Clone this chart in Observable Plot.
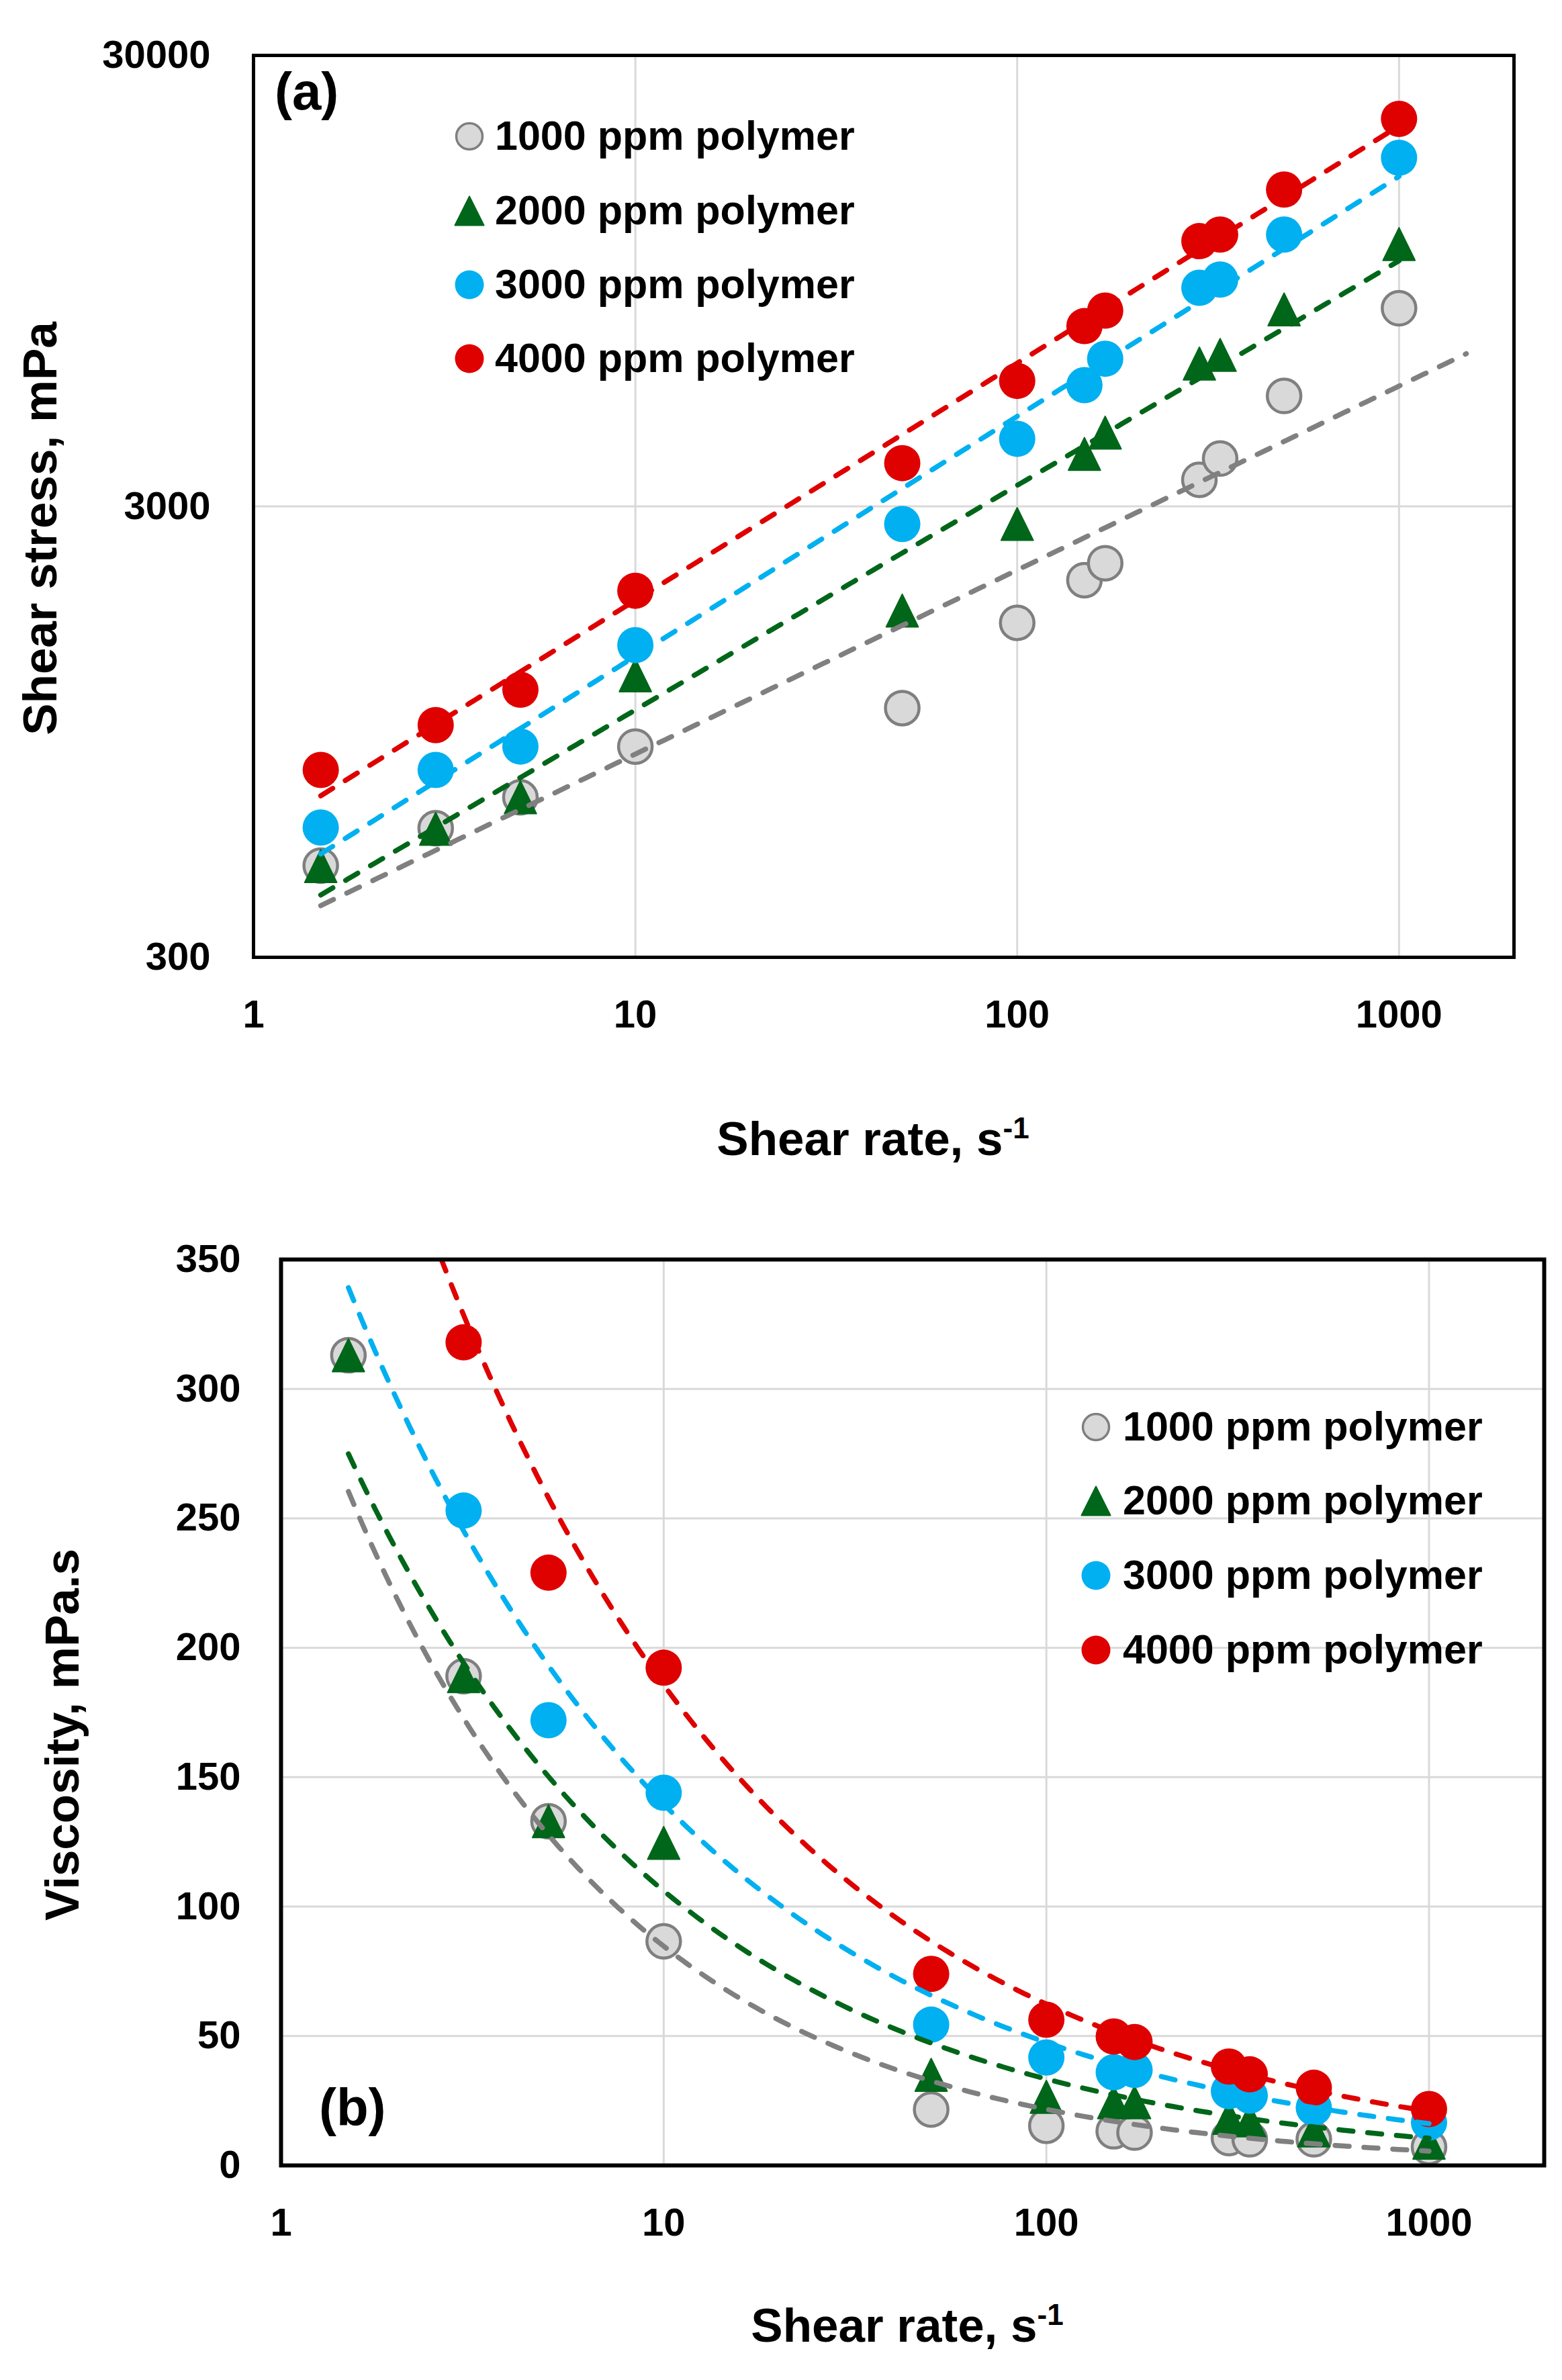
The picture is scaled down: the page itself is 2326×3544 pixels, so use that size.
<!DOCTYPE html>
<html>
<head>
<meta charset="utf-8">
<script src="https://cdn.jsdelivr.net/npm/d3@7"></script>
<script src="https://cdn.jsdelivr.net/npm/@observablehq/plot@0.6"></script>
<style>
html, body { margin: 0; padding: 0; background: #ffffff; }
#chart svg { display: block; }
</style>
</head>
<body>
<div id="chart"></div>
<script>
// ---------------- data ----------------
const seriesNames = ["1000 ppm polymer", "2000 ppm polymer", "3000 ppm polymer", "4000 ppm polymer"];
const shearRates = [1.5, 3, 5, 10, 50, 100, 150, 170, 300, 340, 500, 1000];

// (a) shear stress, mPa
const stress1000 = [479, 580, 679, 880, 1071, 1655, 2058, 2244, 3436, 3829, 5272, 8248];
const stress2000 = [478, 578, 679, 1266, 1762, 2742, 3921, 4372, 6220, 6500, 8200, 11450];
const stress3000 = [582, 781, 880, 1477, 2742, 4236, 5570, 6375, 9157, 9550, 12020, 17790];
const stress4000 = [781, 982, 1176, 1950, 3741, 5693, 7530, 8150, 11620, 12020, 15120, 21700];

// (b) viscosity, mPa.s (null = off the chart)
const visc1000 = [313, 189, 133, 86.6, 21.6, 15.3, 13.2, 12.7, 10.6, 10.1, 10.1, 7.1];
const visc2000 = [313, 189, 133, 124.6, 35, 26.5, 24.4, 24.4, 18.4, 17.4, 13.5, 8.8];
const visc3000 = [null, 253, 172, 144, 54.4, 41.7, 36, 36.9, 28.7, 27, 22.3, 16.6];
const visc4000 = [null, 318, 229, 192.3, 74, 56.3, 49.8, 47.7, 38.2, 35.2, 30, 21.8];

// power-law trendlines (stress = K * rate^n, viscosity = K * rate^(n-1))
const trendK = [331, 337, 410, 553];
const trendN = [0.408, 0.498, 0.532, 0.526];
const trendStart = [1.5, 1.5, 1.5, 1.5];
const trendEndA = [1500, 1000, 1000, 1000];
const trendEndB = [1000, 1000, 1000, 1000];

// ticks
const rateTicks = [1, 10, 100, 1000];
const rateGrid = [10, 100, 1000];
const stressTicks = [300, 3000, 30000];
const stressGrid = [3000];
const viscTicks = [0, 50, 100, 150, 200, 250, 300, 350];
const viscGrid = [50, 100, 150, 200, 250, 300];

// ---------------- styles ----------------
const fills = ["#d9d9d9", "#006619", "#00b0f0", "#df0000"];
const strokes = ["#7f7f7f", "#006619", "#00b0f0", "#df0000"];
const lineColors = ["#808080", "#006619", "#00b0f0", "#df0000"];
const FONT = "'Liberation Sans', Arial, Helvetica, sans-serif";

const triangle = {
  draw(context, size) {
    const r = Math.sqrt(size / Math.PI);
    const h = r * 0.9;
    context.moveTo(0, -h);
    context.lineTo(h * 0.98, h);
    context.lineTo(-h * 0.98, h);
    context.closePath();
  }
};

function tidy(valueArrays) {
  const rows = [];
  valueArrays.forEach((vals, s) => {
    vals.forEach((v, j) => {
      if (v != null) rows.push({ s, x: shearRates[j], y: v });
    });
  });
  return rows;
}
function trend(ends, exponentShift) {
  const rows = [];
  trendK.forEach((K, s) => {
    const a = Math.log10(trendStart[s]), b = Math.log10(ends[s]);
    const N = 160;
    for (let i = 0; i <= N; i++) {
      const x = Math.pow(10, a + (b - a) * i / N);
      rows.push({ s, x, y: K * Math.pow(x, trendN[s] - exponentShift) });
    }
  });
  return rows;
}

const stressData = tidy([stress1000, stress2000, stress3000, stress4000]);
const viscData = tidy([visc1000, visc2000, visc3000, visc4000]);
const trendA = trend(trendEndA, 0);
const trendB = trend(trendEndB, 1);

function dotMarks(data) {
  return [0, 1, 2, 3].map(s => Plot.dot(data, {
    filter: d => d.s === s,
    x: "x", y: "y",
    r: s === 0 ? 25 : 27,
    symbol: s === 1 ? triangle : "circle",
    fill: fills[s],
    stroke: strokes[s],
    strokeWidth: s === 0 ? 4.5 : (s === 1 ? 2 : 0),
    strokeLinejoin: "round"
  }));
}
function lineMarks(data) {
  return [0, 1, 2, 3].map(s => Plot.line(data, {
    filter: d => d.s === s,
    x: "x", y: "y",
    stroke: lineColors[s],
    strokeWidth: 7.5,
    strokeDasharray: "21,22",
    strokeLinecap: "round",
    clip: true
  }));
}
function tickText(ticks, channel, opts) {
  return Plot.text(ticks, Object.assign({
    [channel]: d => d,
    text: d => String(d),
    fontSize: 58,
    fontWeight: "bold",
    fill: "#000"
  }, opts));
}

// ---------------- panel (a) ----------------
const plotA = Plot.plot({
  width: 2326, height: 1750,
  marginLeft: 377, marginRight: 72, marginTop: 82, marginBottom: 325,
  style: { fontFamily: FONT, background: "#ffffff", overflow: "visible" },
  x: { type: "log", domain: [1, 2000], axis: null },
  y: { type: "log", domain: [300, 30000], axis: null },
  marks: [
    Plot.ruleX(rateGrid, { x: d => d, stroke: "#d9d9d9", strokeWidth: 3 }),
    Plot.ruleY(stressGrid, { y: d => d, stroke: "#d9d9d9", strokeWidth: 3 }),
    ...dotMarks(stressData),
    ...lineMarks(trendA),
    Plot.frame({ stroke: "#000", strokeWidth: 5 }),
    tickText(rateTicks, "x", { frameAnchor: "bottom", dy: 63, lineAnchor: "top" }),
    tickText(stressTicks, "y", { frameAnchor: "left", dx: -64, textAnchor: "end", lineAnchor: "middle" })
  ]
});

// ---------------- panel (b) ----------------
const plotB = Plot.plot({
  width: 2326, height: 1794,
  marginLeft: 418, marginRight: 27, marginTop: 125, marginBottom: 320,
  style: { fontFamily: FONT, background: "#ffffff", overflow: "visible" },
  x: { type: "log", domain: [1, 2000], axis: null },
  y: { type: "linear", domain: [0, 350], axis: null },
  marks: [
    Plot.ruleX(rateGrid, { x: d => d, stroke: "#d9d9d9", strokeWidth: 3 }),
    Plot.ruleY(viscGrid, { y: d => d, stroke: "#d9d9d9", strokeWidth: 3 }),
    ...dotMarks(viscData),
    ...lineMarks(trendB),
    Plot.frame({ stroke: "#000", strokeWidth: 6 }),
    tickText(rateTicks, "x", { frameAnchor: "bottom", dy: 63, lineAnchor: "top" }),
    tickText(viscTicks, "y", { frameAnchor: "left", dx: -60, textAnchor: "end", lineAnchor: "middle" })
  ]
});

// ---------------- annotations: titles, panel labels, legends ----------------
function decorate(svgNode, cfg) {
  const svg = d3.select(svgNode);
  const g = svg.append("g").attr("font-family", FONT).attr("font-weight", "bold")
    .attr("fill", "#000").attr("text-anchor", "start");
  // x title with superscript
  const xt = g.append("text").attr("x", cfg.xTitle[0]).attr("y", cfg.xTitle[1])
    .attr("text-anchor", "middle").attr("font-size", 71);
  xt.append("tspan").text("Shear rate, s");
  xt.append("tspan").attr("font-size", 44).attr("dy", -25).text("-1");
  // y title
  g.append("text").attr("transform", `translate(${cfg.yTitle[0]},${cfg.yTitle[1]}) rotate(-90)`)
    .attr("text-anchor", "middle").attr("font-size", 71).text(cfg.yTitleText);
  // panel label
  g.append("text").attr("x", cfg.label[0]).attr("y", cfg.label[1])
    .attr("text-anchor", "start").attr("font-size", 78).text(cfg.labelText);
  // legend
  seriesNames.forEach((name, s) => {
    const base = cfg.legendBase[s];
    const cy = base - 20;
    const mx = cfg.legendMarkerX;
    if (s === 1) {
      const h = 21.5;
      g.append("path")
        .attr("d", `M${mx},${cy - h}L${mx + h},${cy + h}L${mx - h},${cy + h}Z`)
        .attr("fill", fills[s]).attr("stroke", strokes[s]).attr("stroke-width", 2).attr("stroke-linejoin", "round");
    } else {
      g.append("circle").attr("cx", mx).attr("cy", cy).attr("r", s === 0 ? 19.5 : 21.5)
        .attr("fill", fills[s]).attr("stroke", s === 0 ? strokes[s] : "none").attr("stroke-width", s === 0 ? 3.5 : 0);
    }
    g.append("text").attr("x", cfg.legendTextX).attr("y", base)
      .attr("text-anchor", "start").attr("font-size", 61).text(name);
  });
}

decorate(plotA, {
  xTitle: [1300, 1720],
  yTitle: [84, 787], yTitleText: "Shear stress, mPa",
  label: [409, 163], labelText: "(a)",
  legendMarkerX: 699, legendTextX: 737,
  legendBase: [223, 334, 444, 554]
});
decorate(plotB, {
  xTitle: [1351, 1737],
  yTitle: [117, 833], yTitleText: "Viscosity, mPa.s",
  label: [475, 1415], labelText: "(b)",
  legendMarkerX: 1632, legendTextX: 1672,
  legendBase: [395, 505, 616, 727]
});

const chart = document.getElementById("chart");
chart.appendChild(plotA);
chart.appendChild(plotB);
</script>
</body>
</html>
